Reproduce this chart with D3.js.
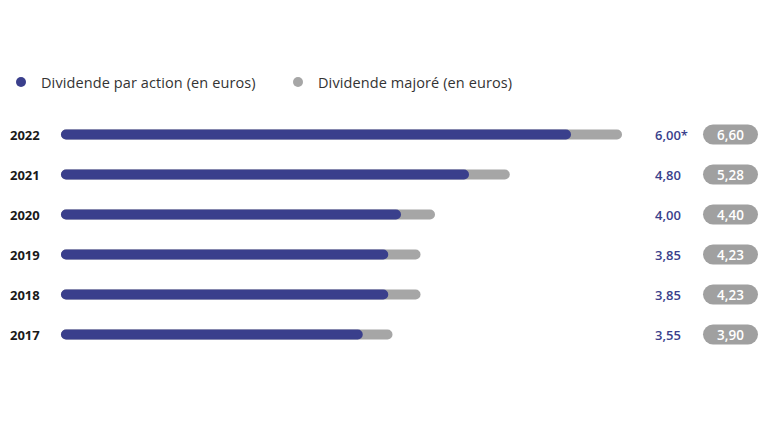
<!DOCTYPE html>
<html>
<head>
<meta charset="utf-8">
<script src="https://cdn.jsdelivr.net/npm/d3@7"></script>
<style>
  body { margin: 0; background: #fff; }
  svg { display: block; font-family: "Open Sans", "Lato", sans-serif; }
</style>
</head>
<body>
<div class="center"></div>
<script>
// data
const years = ["2022", "2021", "2020", "2019", "2018", "2017"];
const dividend = [6.00, 4.80, 4.00, 3.85, 3.85, 3.55];
const majore = [6.60, 5.28, 4.40, 4.23, 4.23, 3.90];
const dividendLabels = ["6,00*", "4,80", "4,00", "3,85", "3,85", "3,55"];
const majoreLabels = ["6,60", "5,28", "4,40", "4,23", "4,23", "3,90"];
const legendLabels = ["Dividende par action (en euros)", "Dividende majoré (en euros)"];

const width = 768, height = 421;
const navy = "#3a3f8c", grey = "#a6a6a6";

const svg = d3.select(".center").append("svg")
  .attr("width", width)
  .attr("height", height);

// scales
const xScale = d3.scaleLinear().domain([0, 6.6]).range([61, 622]);
const yScale = d3.scalePoint().domain(years).range([134.5, 334.5]);
const barH = 10;

// legend
const legendX = [21, 298];
legendLabels.forEach((t, i) => {
  svg.append("circle")
    .attr("cx", legendX[i])
    .attr("cy", 82)
    .attr("r", 5)
    .style("fill", i == 0 ? navy : grey);
  svg.append("text")
    .attr("x", legendX[i] + 20)
    .attr("y", 82)
    .attr("dominant-baseline", "central")
    .style("font-size", "14.5px")
    .style("letter-spacing", "0.1px")
    .style("fill", "#333")
    .text(t);
});

const rows = years.map((y, i) => ({year: y, d: dividend[i], m: majore[i], dl: dividendLabels[i], ml: majoreLabels[i]}));

const g = svg.selectAll(".row")
  .data(rows)
  .enter().append("g")
  .attr("class", "row")
  .attr("transform", d => `translate(0,${yScale(d.year)})`);

// year labels
g.append("text")
  .attr("x", 10)
  .attr("dominant-baseline", "central")
  .style("font-size", "13px")
  .style("font-weight", "700")
  .style("fill", "#1a1a1a")
  .text(d => d.year);

// grey bar (majoré)
g.append("rect")
  .attr("x", xScale(0))
  .attr("y", -barH / 2)
  .attr("width", d => xScale(d.m) - xScale(0))
  .attr("height", barH)
  .attr("rx", barH / 2)
  .style("fill", grey);

// navy bar (dividende)
g.append("rect")
  .attr("x", xScale(0))
  .attr("y", -barH / 2)
  .attr("width", d => xScale(d.d) - xScale(0))
  .attr("height", barH)
  .attr("rx", barH / 2)
  .style("fill", navy);

// dividend value
g.append("text")
  .attr("x", 655)
  .attr("dominant-baseline", "central")
  .style("font-size", "13px")
  .style("font-weight", "600")
  .style("fill", navy)
  .text(d => d.dl);

// majoré pill
g.append("rect")
  .attr("x", 703)
  .attr("y", -10)
  .attr("width", 55)
  .attr("height", 20)
  .attr("rx", 10)
  .style("fill", "#a0a0a0");

g.append("text")
  .attr("x", 730.5)
  .attr("text-anchor", "middle")
  .attr("dominant-baseline", "central")
  .style("font-size", "13.5px")
  .style("font-weight", "600")
  .style("fill", "#fff")
  .text(d => d.ml);
</script>
</body>
</html>
